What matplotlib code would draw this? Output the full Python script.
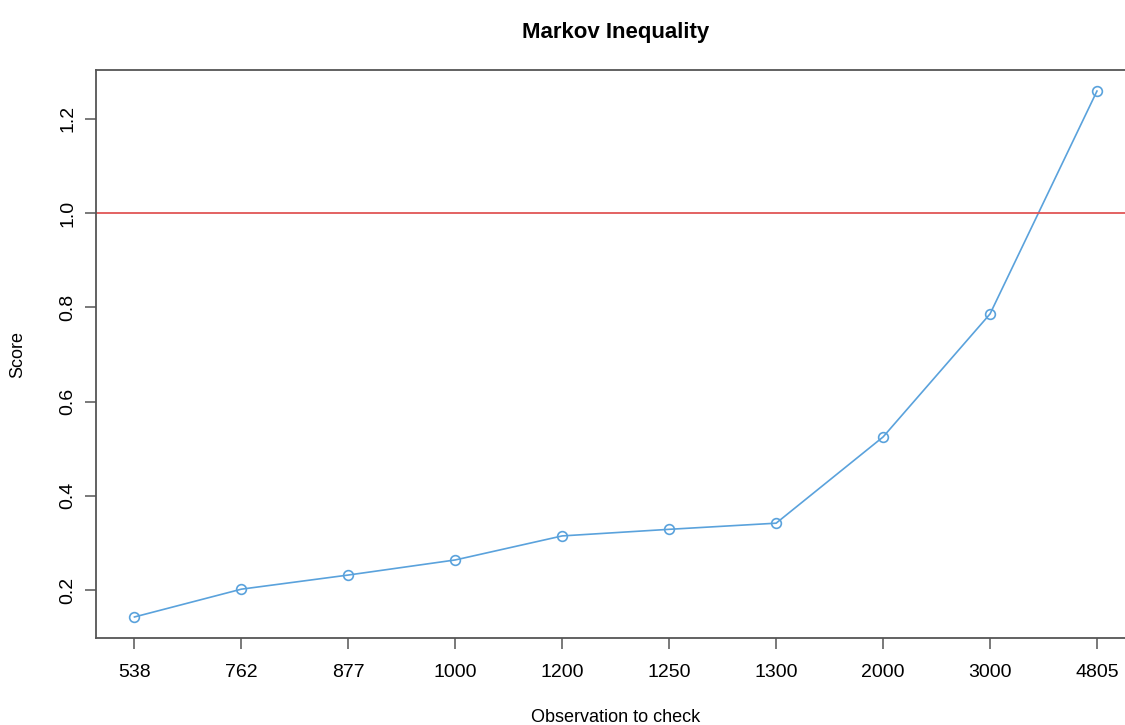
import matplotlib.pyplot as plt
import numpy as np

# observations checked and their Markov scores
observations = ["538", "762", "877", "1000", "1200", "1250", "1300", "2000", "3000", "4805"]
scores = [0.143, 0.202, 0.232, 0.264, 0.315, 0.329, 0.342, 0.525, 0.786, 1.259]
threshold = 1.0
y_ticks = [0.2, 0.4, 0.6, 0.8, 1.0, 1.2]

plt.rcParams["font.family"] = ["Liberation Sans", "DejaVu Sans"]

fig = plt.figure(figsize=(11.25, 7.25), dpi=100)
# plot region runs a bit past the right edge of the figure
ax = fig.add_axes([0.0853, 0.12, 0.924, 0.7834])

idx = np.arange(1, len(scores) + 1)
ax.plot(idx, scores, "-o", color="#5aa2dc", linewidth=1.2,
        markerfacecolor="none", markeredgecolor="#5aa2dc",
        markersize=7, markeredgewidth=1.2)
ax.axhline(threshold, color="#e05555", linewidth=1.3)

# R-style 4% padding around the data
pad_x = 0.04 * (idx[-1] - idx[0])
ax.set_xlim(idx[0] - pad_x, idx[-1] + pad_x)
rng = max(scores) - min(scores)
ax.set_ylim(min(scores) - 0.04 * rng, max(scores) + 0.04 * rng)

ax.set_xticks(idx)
ax.set_xticklabels(observations)
ax.set_yticks(y_ticks)
ax.set_yticklabels([f"{v:.1f}" for v in y_ticks], rotation=90, va="center")

ax.tick_params(direction="out", length=8, width=1.1, color="#555555",
               labelsize=14)
ax.tick_params(axis="x", pad=11)
ax.tick_params(axis="y", pad=6)
for s in ax.spines.values():
    s.set_color("#555555")
    s.set_linewidth(1.3)

ax.set_title("Markov Inequality", fontsize=16, fontweight="bold", pad=23)
ax.set_xlabel("Observation to check", fontsize=13, labelpad=20)
ax.set_ylabel("Score", fontsize=13, labelpad=24)

fig.savefig("out.png", dpi=100)
